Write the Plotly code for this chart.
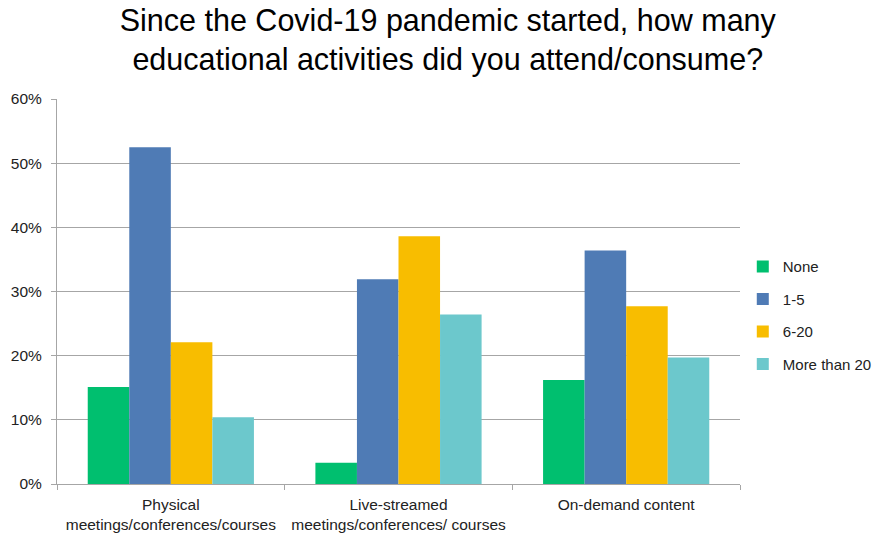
import plotly.graph_objects as go

categories = [
    "Physical<br>meetings/conferences/courses",
    "Live-streamed<br>meetings/conferences/ courses",
    "On-demand content",
]
series_names = ["None", "1-5", "6-20", "More than 20"]
none_vals = [0.151, 0.033, 0.162]
one_to_five_vals = [0.525, 0.319, 0.364]
six_to_twenty_vals = [0.221, 0.386, 0.277]
more_than_twenty_vals = [0.104, 0.264, 0.197]
colors = ["#00BF6F", "#4F7BB5", "#F8BD00", "#6CC8CC"]

series_values = [none_vals, one_to_five_vals, six_to_twenty_vals, more_than_twenty_vals]

fig = go.Figure()
for name, vals, col in zip(series_names, series_values, colors):
    fig.add_trace(go.Bar(
        name=name, x=categories, y=vals, legendgroup=name,
        marker=dict(color=col, line=dict(width=0)),
    ))

fig.update_layout(
    width=878, height=537,
    paper_bgcolor="white", plot_bgcolor="white",
    barmode="group", bargap=0.27, bargroupgap=0,
    margin=dict(l=57, r=138, t=99, b=53),
    font=dict(family="Liberation Sans, Arial, sans-serif", size=15.5, color="#222222"),
    title=dict(
        text="Since the Covid-19 pandemic started, how many<br>educational activities did you attend/consume?",
        x=0.51, xanchor="center", yref="container", y=0.943, yanchor="top",
        font=dict(size=30.5, color="#000000"),
    ),
    legend=dict(
        xref="container", x=0.846, xanchor="left",
        yref="container", y=0.413, yanchor="middle",
        font=dict(size=15, color="#222222"),
        tracegroupgap=10, itemwidth=30,
    ),
    showlegend=True,
)

fig.update_xaxes(
    showline=True, linecolor="#A6A6A6", linewidth=1,
    ticks="outside", tickson="boundaries", ticklen=5, tickcolor="#A6A6A6",
    showgrid=False, ticklabelstandoff=6, automargin=False,
)
fig.update_yaxes(
    range=[0, 0.6], dtick=0.1, tickformat=".0%",
    showline=True, linecolor="#A6A6A6", linewidth=1,
    ticks="outside", ticklen=5, tickcolor="#A6A6A6",
    showgrid=True, gridcolor="#A6A6A6", gridwidth=1,
    zeroline=False, ticklabelstandoff=6, automargin=False,
)

fig.write_html("out.html")
